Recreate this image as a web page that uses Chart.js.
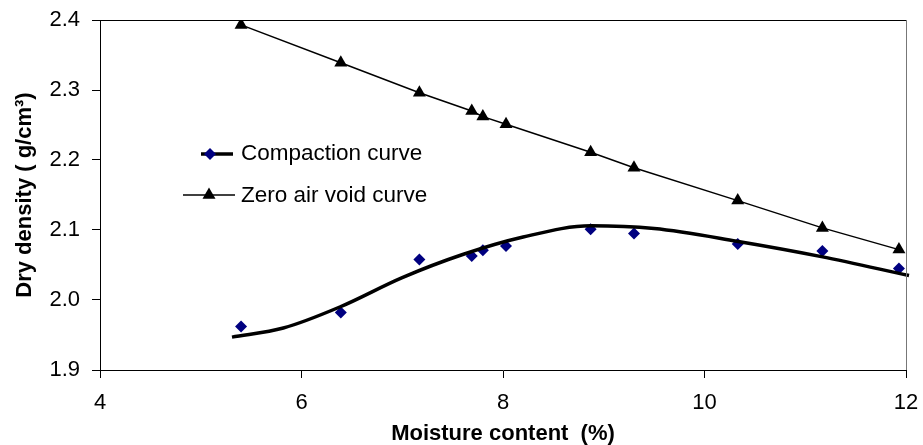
<!DOCTYPE html>
<html>
<head>
<meta charset="utf-8">
<script src="https://cdn.jsdelivr.net/npm/chart.js@4.4.1/dist/chart.umd.min.js"></script>
<style>
  html, body { margin: 0; padding: 0; background: #fff; }
  canvas { display: block; }
</style>
</head>
<body>
<canvas id="graph" width="923" height="445"></canvas>
<script>
// moisture content (%) of each test
const moisture = [5.40, 6.39, 7.17, 7.69, 7.80, 8.03, 8.87, 9.30, 10.33, 11.17, 11.93];
// measured dry density (g/cm3)
const compaction = [1.962, 1.982, 2.058, 2.063, 2.071, 2.077, 2.101, 2.095, 2.080, 2.070, 2.045];
// zero air void density (g/cm3)
const zeroAirVoid = [2.393, 2.339, 2.296, 2.270, 2.262, 2.251, 2.211, 2.189, 2.142, 2.103, 2.072];
// fitted compaction curve
const fitX = [5.31, 5.82, 6.38, 7.00, 7.60, 8.20, 8.87, 9.50, 10.32, 11.16, 12.03];
const fitY = [1.947, 1.960, 1.990, 2.032, 2.065, 2.090, 2.106, 2.102, 2.084, 2.062, 2.035];

const xTicks = [4, 6, 8, 10, 12];
const yTicks = [1.9, 2.0, 2.1, 2.2, 2.3, 2.4];

const FONT = "'Liberation Sans', Arial, sans-serif";

const toPoints = (xs, ys) => xs.map((x, i) => ({ x: x, y: ys[i] }));

// box round the plot + the legend inside it
const frameAndLegend = {
  id: 'frameAndLegend',
  afterDraw(chart) {
    const ctx = chart.ctx;
    const a = chart.chartArea;
    ctx.save();
    ctx.lineWidth = 1;
    ctx.strokeStyle = '#000';
    ctx.beginPath();
    ctx.moveTo(a.left, a.top + 0.5);
    ctx.lineTo(a.right, a.top + 0.5);
    ctx.stroke();
    ctx.strokeStyle = '#777';
    ctx.beginPath();
    ctx.moveTo(a.right + 0.5, a.top);
    ctx.lineTo(a.right + 0.5, a.bottom);
    ctx.stroke();

    // legend
    ctx.strokeStyle = '#000';
    ctx.lineWidth = 3.5;
    ctx.beginPath();
    ctx.moveTo(201, 154);
    ctx.lineTo(233, 154);
    ctx.stroke();
    ctx.fillStyle = '#000080';
    Chart.helpers.drawPoint(ctx, { pointStyle: 'rectRot', radius: 6, rotation: 0, borderWidth: 0 }, 210, 154);

    ctx.lineWidth = 1.5;
    ctx.beginPath();
    ctx.moveTo(183, 195);
    ctx.lineTo(235, 195);
    ctx.stroke();
    ctx.fillStyle = '#000';
    Chart.helpers.drawPoint(ctx, { pointStyle: 'triangle', radius: 7.5, rotation: 0, borderWidth: 0 }, 209, 195);

    ctx.fillStyle = '#000';
    ctx.font = '22.5px ' + FONT;
    ctx.textAlign = 'left';
    ctx.textBaseline = 'alphabetic';
    ctx.fillText('Compaction curve', 241, 160);
    ctx.fillText('Zero air void curve', 241, 202);
    ctx.restore();
  }
};

const ctx = document.getElementById('graph').getContext('2d');
new Chart(ctx, {
  type: 'scatter',
  data: {
    datasets: [
      {
        label: 'Zero air void curve',
        data: toPoints(moisture, zeroAirVoid),
        showLine: true,
        borderColor: '#000',
        borderWidth: 1.5,
        backgroundColor: '#000',
        pointStyle: 'triangle',
        pointRadius: 7.5,
        pointBorderWidth: 0,
        pointHoverRadius: 7.5
      },
      {
        label: 'Compaction curve fit',
        data: toPoints(fitX, fitY),
        showLine: true,
        borderColor: '#000',
        borderWidth: 3.5,
        pointRadius: 0,
        pointHoverRadius: 0,
        cubicInterpolationMode: 'monotone',
        clip: 6
      },
      {
        label: 'Compaction curve',
        data: toPoints(moisture, compaction),
        showLine: false,
        backgroundColor: '#000080',
        borderColor: '#000080',
        pointStyle: 'rectRot',
        pointRadius: 6,
        pointBorderWidth: 0,
        pointHoverRadius: 6
      }
    ]
  },
  options: {
    responsive: false,
    animation: false,
    layout: { padding: { top: 20, right: 17, left: 0, bottom: 0 } },
    plugins: {
      legend: { display: false },
      tooltip: { enabled: false }
    },
    scales: {
      x: {
        type: 'linear',
        min: 4,
        max: 12,
        afterFit: (s) => { s.height = 75; s.paddingLeft = 0; s.paddingRight = 0; },
        afterBuildTicks: (s) => { s.ticks = xTicks.map(v => ({ value: v })); },
        grid: { drawOnChartArea: false, drawTicks: true, tickLength: 8, color: '#000' },
        border: { display: true, color: '#000', width: 1 },
        ticks: { color: '#000', padding: 12, font: { family: FONT, size: 22 } },
        title: {
          display: true,
          text: 'Moisture content  (%)',
          color: '#000',
          font: { family: FONT, size: 22, weight: 'bold', lineHeight: 1.0 },
          padding: { top: 0, bottom: 0 }
        }
      },
      y: {
        type: 'linear',
        min: 1.9,
        max: 2.4,
        afterFit: (s) => { s.width = 100; s.paddingTop = 0; s.paddingBottom = 0; },
        afterBuildTicks: (s) => { s.ticks = yTicks.map(v => ({ value: v })); },
        grid: { drawOnChartArea: false, drawTicks: true, tickLength: 8, color: '#000' },
        border: { display: true, color: '#000', width: 1 },
        ticks: {
          color: '#000',
          padding: 12,
          font: { family: FONT, size: 22 },
          callback: (v) => Number(v).toFixed(1)
        },
        title: {
          display: true,
          text: 'Dry density ( g/cm³)',
          color: '#000',
          font: { family: FONT, size: 22, weight: 'bold' },
          padding: { top: 12, bottom: 0 }
        }
      }
    }
  },
  plugins: [frameAndLegend]
});
</script>
</body>
</html>
